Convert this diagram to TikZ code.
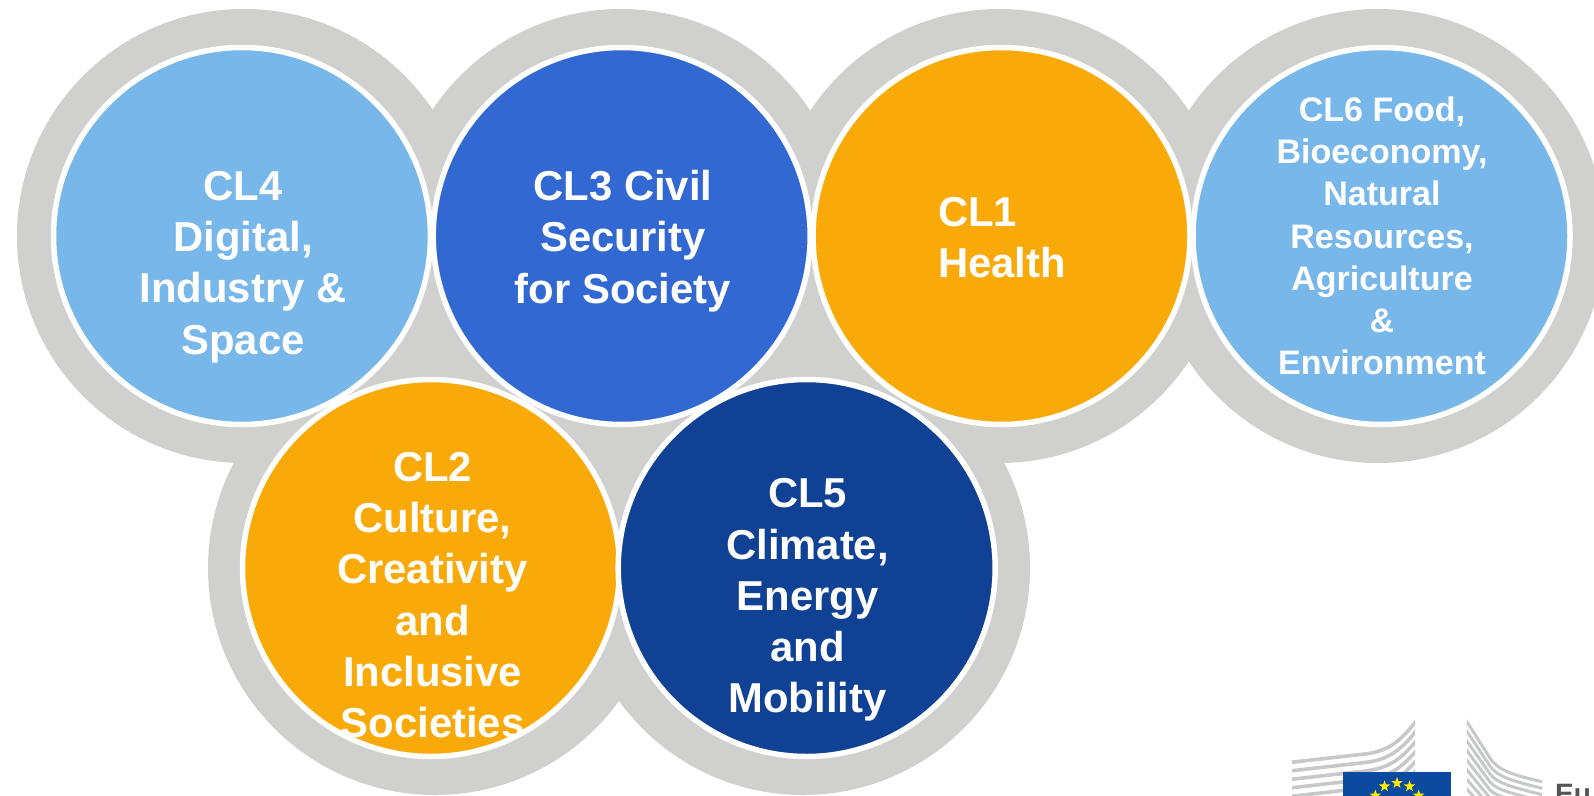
\documentclass[tikz,border=0pt]{standalone}
\usepackage{fontspec}
\setmainfont{Liberation Sans}
\usetikzlibrary{shapes.geometric,calc}
\definecolor{ringgray}{HTML}{D0D0CE}
\definecolor{skyblue}{HTML}{78B7EA}
\definecolor{midblue}{HTML}{3268D2}
\definecolor{navyblue}{HTML}{0F4194}
\definecolor{amber}{HTML}{F9AA08}
\definecolor{flagblue}{HTML}{0B4A9E}
\definecolor{flagyellow}{HTML}{FFED00}
\definecolor{logogray}{HTML}{C6C8C9}
\definecolor{logotext}{HTML}{555555}
\tikzset{
  halo/.style={circle,fill=ringgray,draw=none,minimum size=454pt,inner sep=0pt,outer sep=0pt},
  disc/.style={circle,draw=white,line width=5.5pt,minimum size=377pt,inner sep=0pt,outer sep=0pt},
  lbl/.style={text=white,align=center,inner sep=0pt,font=\bfseries\fontsize{41.8}{51.2}\selectfont},
  lblsmall/.style={text=white,align=center,inner sep=0pt,font=\bfseries\fontsize{34}{42.2}\selectfont},
  wing/.style={draw=logogray,line width=3.6pt},
  eustar/.style={star,star points=5,star point ratio=2.5,fill=flagyellow,draw=none,minimum size=12pt,inner sep=0pt}
}
\begin{document}
\begin{tikzpicture}[x=1pt,y=-1pt]
\useasboundingbox (0,0) rectangle (1594,795);
\begin{scope}
\clip (0,0) rectangle (1594,795);
% grey halos
\node[halo] (h4) at (244,236) {};
\node[halo] (h3) at (621,236) {};
\node[halo] (h1) at (999.5,236) {};
\node[halo] (h6) at (1378,236) {};
\node[halo] (h2) at (435,568) {};
\node[halo] (h5) at (803,568) {};
% discs
\node[disc,fill=amber] (c2) at (431,568) {};
\node[disc,fill=navyblue] (c5) at (806.7,568) {};
\node[disc,fill=skyblue] (c4) at (242,236) {};
\node[disc,fill=midblue] (c3) at (621.7,236) {};
\node[disc,fill=amber] (c1) at (1001.5,236) {};
\node[disc,fill=skyblue] (c6) at (1381.5,236) {};
% labels
\node[lbl] (t4) at (243,267) {CL4\\Digital,\\Industry \&\\Space};
\node[lbl] (t3) at (623,241) {CL3 Civil\\Security\\for Society};
\node[lbl,align=left,anchor=west] (t1) at (938,238) {CL1\\Health};
\node[lblsmall] (t6) at (1382,236) {CL6 Food,\\Bioeconomy,\\Natural\\Resources,\\Agriculture\\\&\\Environment};
\node[lbl] (t2) at (432.5,595) {CL2\\Culture,\\Creativity\\and\\Inclusive\\Societies};
\node[lbl] (t5) at (807.5,600) {CL5\\Climate,\\Energy\\and\\Mobility};
% logo: left wing
\begin{scope}
\clip (1292,715) rectangle (1415,795);
\foreach \d in {0,1,...,5}
  \draw[wing] (1285,{763+8.5*\d}) -- (1365,{754+8.5*\d}) .. controls (1390,{751+8.5*\d}) and (1402,{740+9.5*\d}) .. (1420,{716+10*\d});
\end{scope}
% logo: right wing
\begin{scope}
\clip (1467,715) rectangle (1542,795);
\foreach \d in {0,1,...,7}
  \draw[wing,line width=3pt] (1462,{714+10*\d}) -- (1490,{758+8*\d}) .. controls (1497,{769+7*\d}) and (1510,{775+6*\d}) .. (1548,{783+6.5*\d});
\end{scope}
% logo: flag
\node[rectangle,fill=flagblue,draw=none,anchor=north west,minimum width=108pt,minimum height=40pt,inner sep=0pt] (flag) at (1343,772) {};
\coordinate (sc) at (1397,808);
\foreach \a in {0,30,...,330}
  \node[eustar] at ($(sc)+(\a:25pt)$) {};
\node[anchor=base west,inner sep=0pt,text=logotext,font=\bfseries\fontsize{28}{28}\selectfont] (eu) at (1555,803) {Eu};
\end{scope}
\end{tikzpicture}
\end{document}
